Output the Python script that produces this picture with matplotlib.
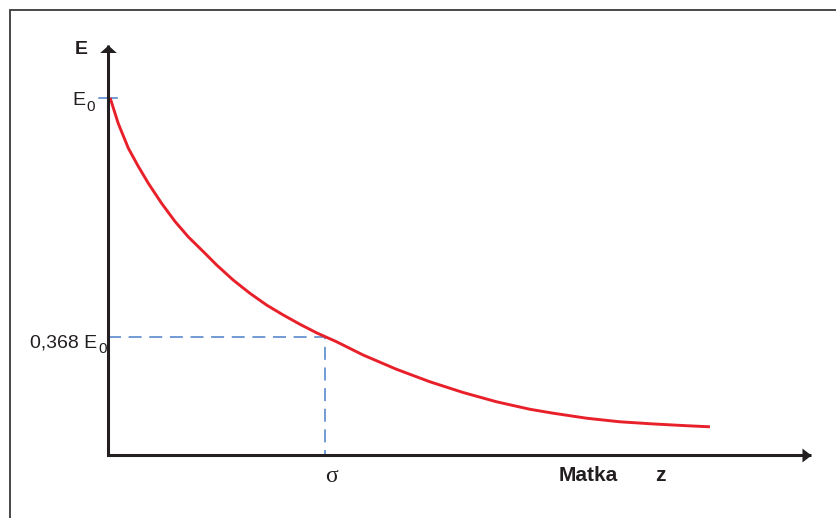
import matplotlib.pyplot as plt
from matplotlib.patches import Rectangle

plt.rcParams['font.family'] = ['Liberation Sans', 'DejaVu Sans']

# curve: z in units of sigma, E in units of E0
z = [0.01, 0.047, 0.094, 0.140, 0.186, 0.247, 0.309, 0.370, 0.447, 0.501,
     0.577, 0.654, 0.731, 0.808, 0.885, 0.962, 1.054, 1.176, 1.330, 1.484,
     1.637, 1.791, 1.945, 2.052, 2.206, 2.359, 2.513, 2.667, 2.774]
E = [1.0, 0.929, 0.859, 0.808, 0.761, 0.705, 0.654, 0.611, 0.565, 0.532,
     0.490, 0.453, 0.420, 0.392, 0.366, 0.342, 0.317, 0.280, 0.240, 0.205,
     0.175, 0.149, 0.128, 0.117, 0.103, 0.093, 0.087, 0.082, 0.079]
sigma = 1.0
e_sigma = 0.331      # level drawn for 0,368 E0
e0 = 1.0
x_end = 3.24         # arrow tips of the axes
y_end = 1.148

ink = '#231f20'
blue = '#4a7fc9'
red = '#e8202a'

fig = plt.figure(figsize=(8.37, 5.18), dpi=100)
ax = fig.add_axes([0, 0, 1, 1])
ax.set_xlim(-108 / 217, 729 / 217)
ax.set_ylim(-63 / 357, 455 / 357)
ax.axis('off')

# outer frame (only left and top edges visible)
fig.add_artist(Rectangle((10 / 837, -0.1), 2, 1 - 10 / 518 + 0.1,
                         transform=fig.transFigure, fill=False, ec='#3a3a3a', lw=1.3))

# guide lines
ax.plot([-0.041, 0.041], [e0, e0], color=blue, lw=1.1)
ax.plot([0, sigma, sigma], [e_sigma, e_sigma, 0], color=blue, lw=1.1,
        linestyle=(0, (8.5, 5)))

# the curve
ax.plot(z, E, color=red, lw=2.1, solid_capstyle='butt', solid_joinstyle='round')

# axes with arrows
ax.plot([0, 0, x_end], [y_end, 0, 0], color=ink, lw=2.2,
        solid_joinstyle='miter', solid_capstyle='butt')
head_r = [(-1.3, -1), (-1.3, 1), (0, 0)]
head_u = [(-1, -0.9), (1, -0.9), (0, 0)]
ax.plot(x_end, 0, marker=head_r, ms=13, color=ink, mew=0)
ax.plot(0, y_end, marker=head_u, ms=12, color=ink, mew=0)


def label_sub(x, y, main, sub):
    ax.text(x, y, main, fontsize=14, color=ink, ha='right', va='baseline')
    ax.annotate(sub, xy=(x, y), xytext=(1, -4), textcoords='offset points',
                fontsize=11, color=ink, ha='left', va='baseline')


# labels
ax.text(-0.124, 1.136, 'E', fontsize=14, fontweight='bold', color=ink,
        ha='center', va='center')
label_sub(-0.106, 0.980, 'E', '0')
label_sub(-0.051, 0.302, '0,368 E', '0')
ax.text(1.032, -0.059, 'σ', fontsize=17, family='Liberation Serif', color=ink,
        ha='center', va='center')
ax.text(2.078, -0.073, 'Matka', fontsize=15, fontweight='bold', color=ink,
        ha='left', va='baseline')
ax.text(2.521, -0.073, 'z', fontsize=15, fontweight='bold', color=ink,
        ha='left', va='baseline')

fig.savefig('out.png', dpi=100)
